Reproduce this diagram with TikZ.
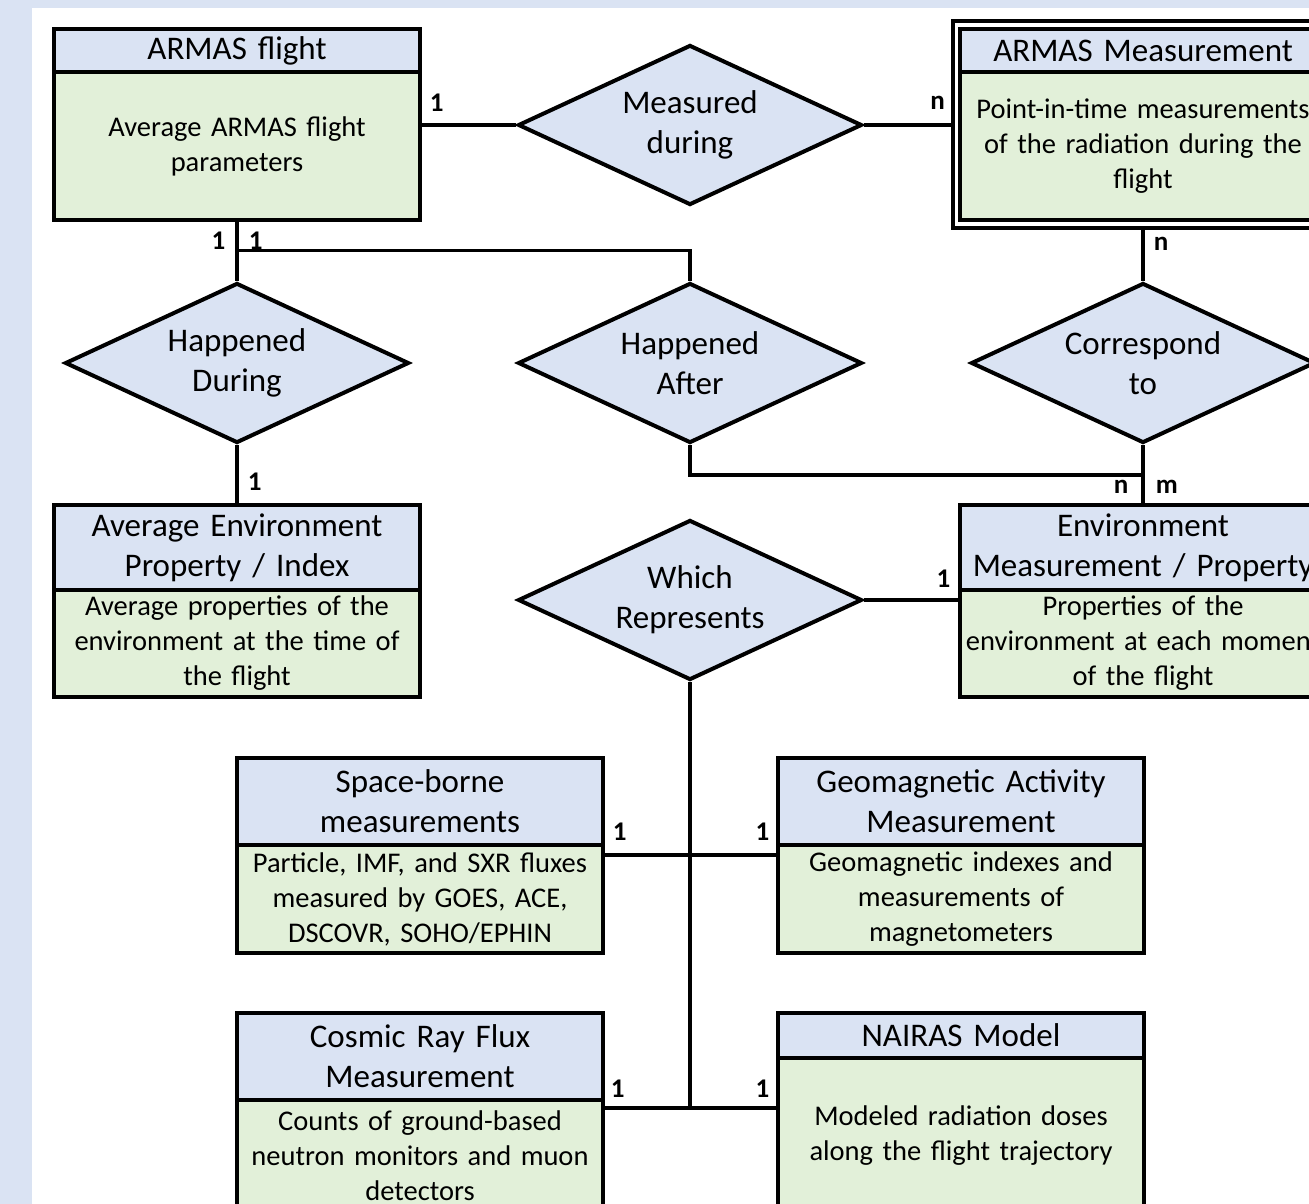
\documentclass[tikz,border=0pt]{standalone}
\usepackage{fontspec}
\setmainfont{Carlito}
\usetikzlibrary{positioning, shapes.geometric, fit, calc}
\definecolor{headblue}{HTML}{DAE3F3}
\definecolor{bodygreen}{HTML}{E2F0D9}
\newcommand\headfont{\fontsize{33}{40}\selectfont}
\newcommand\descfont{\fontsize{28.5}{35}\selectfont}
\newcommand\cardfont{\fontsize{27}{32}\selectfont\bfseries}

\begin{document}
\begin{tikzpicture}[x=1pt, y=-1pt, line width=3.5pt]
    \tikzstyle{entity}=[draw, line width=4pt, inner sep=0pt, outer sep=0pt, minimum width=366pt, text width=360pt, align=center]
    \tikzstyle{entity head}=[entity, fill=headblue, font=\headfont]
    \tikzstyle{entity body}=[entity, fill=bodygreen, font=\descfont]
    \tikzstyle{relation}=[diamond, draw, line width=4pt, fill=headblue, aspect=2.15, minimum width=344pt, minimum height=160pt, inner sep=0pt, align=center, font=\headfont]
    \tikzstyle{card}=[font=\cardfont, inner sep=2pt]

    % Page and background
    \useasboundingbox (0,0) rectangle (1309,1204);
    \clip (0,0) rectangle (1309,1204);
    \fill[headblue] (0,0) rectangle (1309,1204);
    \fill[white] (32,8) rectangle (1309,1204);

    % Draw the entity boxes (title on top, description below)
    \node[entity head, minimum height=43pt, anchor=north] (F-h) at (237,29) {ARMAS flight};
    \node[entity body, minimum height=148pt, below=0pt of F-h] (F-b) {Average ARMAS flight\\parameters};

    \node[entity head, minimum height=43pt, anchor=north] (M-h) at (1143,29) {ARMAS Measurement};
    \node[entity body, minimum height=148pt, below=0pt of M-h] (M-b) {Point-in-time measurements\\of the radiation during the\\flight};
    % weak entity: second frame
    \node[fit=(M-h)(M-b), draw, line width=4pt, inner sep=7.5pt] (M) {};

    \node[entity head, minimum height=85pt, anchor=north] (A-h) at (237,505) {Average Environment\\Property / Index};
    \node[entity body, minimum height=107pt, below=0pt of A-h] (A-b) {Average properties of the\\environment at the time of\\the flight};

    \node[entity head, minimum height=85pt, anchor=north] (E-h) at (1143,505) {Environment\\Measurement / Property};
    \node[entity body, minimum height=107pt, below=0pt of E-h] (E-b) {Properties of the\\environment at each moment\\of the flight};

    \node[entity head, minimum height=87pt, anchor=north] (S-h) at (420,758) {Space-borne\\measurements};
    \node[entity body, minimum height=108pt, below=0pt of S-h] (S-b) {Particle, IMF, and SXR fluxes\\measured by GOES, ACE,\\DSCOVR, SOHO/EPHIN};

    \node[entity head, minimum height=87pt, anchor=north] (G-h) at (961,758) {Geomagnetic Activity\\Measurement};
    \node[entity body, minimum height=108pt, below=0pt of G-h] (G-b) {Geomagnetic indexes and\\measurements of\\magnetometers};

    \node[entity head, minimum height=87pt, anchor=north] (C-h) at (420,1013) {Cosmic Ray Flux\\Measurement};
    \node[entity body, minimum height=112pt, below=0pt of C-h] (C-b) {Counts of ground-based\\neutron monitors and muon\\detectors};

    \node[entity head, minimum height=45pt, anchor=north] (N-h) at (961,1013) {NAIRAS Model};
    \node[entity body, minimum height=155pt, below=0pt of N-h] (N-b) {Modeled radiation doses\\along the flight trajectory};

    % Draw the relations
    \node[relation] (MD) at (690,125) {Measured\\during};
    \node[relation] (HD) at (237,363) {Happened\\During};
    \node[relation] (HA) at (690,363) {Happened\\After};
    \node[relation] (CT) at (1143,363) {Correspond\\to};
    \node[relation] (WR) at (690,600) {Which\\Represents};

    % Junction points
    \coordinate (J1) at ($(F-b.south)!0.5!(HD.north)$);
    \coordinate (J2) at ($(CT.south)!0.5!(E-h.north)$);
    \coordinate (J3) at (690,855);
    \coordinate (J4) at (690,1108);

    % Connect entities and relations, with cardinalities
    \draw (F-b.east |- MD.west) node[card, above right=10pt and 6pt] {1} -- (MD.west);
    \draw (MD.east) -- (M.west |- MD.east) node[card, above left=12pt and 2pt] {n};
    \draw (F-b.south) node[card, below left=8pt and 8pt] {1} node[card, below right=8pt and 8pt] {1} -- (HD.north);
    \draw (J1) -| (HA.north);
    \draw (M.south) node[card, below right=4pt and 7pt] {n} -- (CT.north);
    \draw (HD.south) -- (A-h.north) node[card, above right=11pt and 7pt] {1};
    \draw (CT.south) -- (E-h.north) node[card, above left=8pt and 11pt] {n} node[card, above right=8pt and 9pt] {m};
    \draw (HA.south) |- (J2);
    \draw (WR.east) -- (E-b.west |- WR.east) node[card, above left=9pt and 6pt] {1};
    \draw (WR.south) -- (J4);
    \draw (S-b.east |- J3) node[card, above right=11pt and 6pt] {1} -- (G-b.west |- J3) node[card, above left=11pt and 5pt] {1};
    \draw (C-b.east |- J4) node[card, above right=7pt and 4pt] {1} -- (N-b.west |- J4) node[card, above left=7pt and 5pt] {1};
\end{tikzpicture}
\end{document}
